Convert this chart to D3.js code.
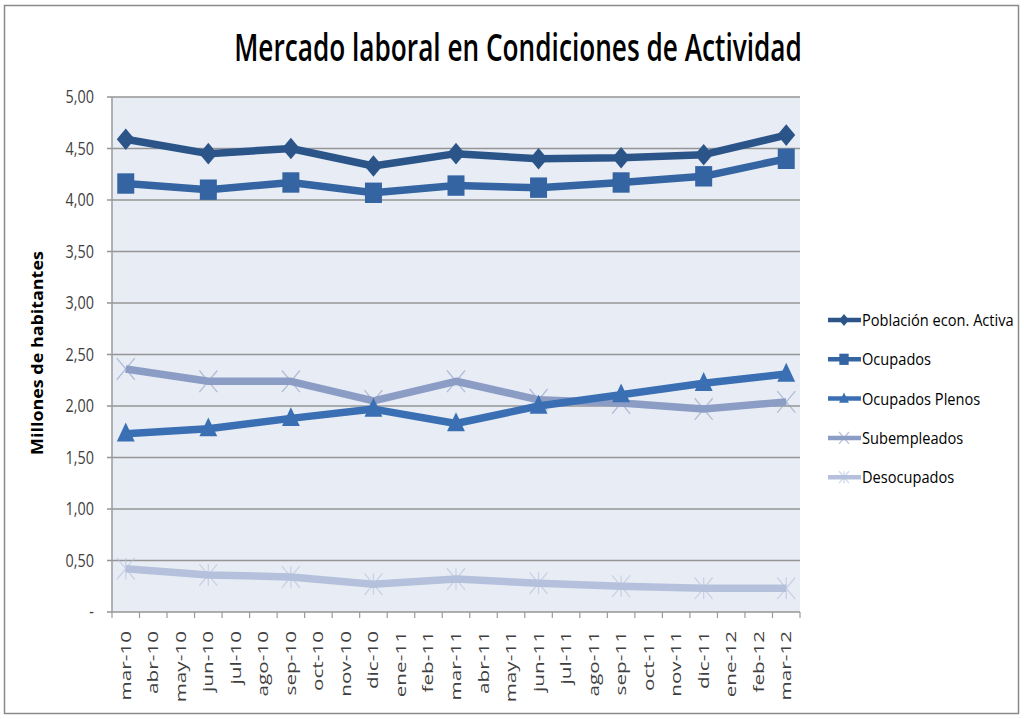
<!DOCTYPE html>
<html>
<head>
<meta charset="utf-8">
<script src="https://cdn.jsdelivr.net/npm/d3@7"></script>
<style>
  body { margin: 0; background: #fff; }
  svg text { font-family: "Open Sans", "Liberation Sans", sans-serif; }
</style>
</head>
<body>
<div id="chart"></div>
<script>
// Mercado laboral - datos trimestrales (millones)
var meses = ["mar-10","abr-10","may-10","jun-10","jul-10","ago-10","sep-10","oct-10","nov-10","dic-10",
             "ene-11","feb-11","mar-11","abr-11","may-11","jun-11","jul-11","ago-11","sep-11","oct-11",
             "nov-11","dic-11","ene-12","feb-12","mar-12"];
var trimestres = ["mar-10","jun-10","sep-10","dic-10","mar-11","jun-11","sep-11","dic-11","mar-12"];

var pea          = [4.59, 4.45, 4.50, 4.33, 4.45, 4.40, 4.41, 4.44, 4.63];
var ocupados     = [4.16, 4.10, 4.17, 4.07, 4.14, 4.12, 4.17, 4.23, 4.40];
var plenos       = [1.73, 1.78, 1.88, 1.97, 1.83, 2.00, 2.11, 2.22, 2.31];
var subempleados = [2.36, 2.24, 2.24, 2.05, 2.24, 2.06, 2.03, 1.97, 2.04];
var desocupados  = [0.42, 0.36, 0.34, 0.27, 0.32, 0.28, 0.25, 0.23, 0.23];

var yTicks = [0, 0.5, 1, 1.5, 2, 2.5, 3, 3.5, 4, 4.5, 5];

var series = [
  { nombre: "Población econ. Activa", valores: pea, color: "#2b5589", marca: "diamond" },
  { nombre: "Ocupados", valores: ocupados, color: "#3464a2", marca: "square" },
  { nombre: "Ocupados Plenos", valores: plenos, color: "#3a6fb3", marca: "triangle" },
  { nombre: "Subempleados", valores: subempleados, color: "#8c9dc5", marca: "x" },
  { nombre: "Desocupados", valores: desocupados, color: "#b5c1dc", marca: "star" }
];

var W = 1024, H = 719;
var margin = { top: 97, right: 224, bottom: 107, left: 112 },
    width = W - margin.left - margin.right,
    height = H - margin.top - margin.bottom;

var svg = d3.select("#chart").append("svg")
    .attr("width", W).attr("height", H);

// marco
svg.append("rect")
    .attr("x", 4.5).attr("y", 5.5).attr("width", 1014).attr("height", 708)
    .attr("fill", "#fff").attr("stroke", "#8a8a8a").attr("stroke-width", 1.5);

svg.append("text")
    .attr("transform", "translate(518,61) scale(0.69,1)")
    .attr("text-anchor", "middle")
    .attr("font-size", 38)
    .attr("font-weight", 600)
    .attr("fill", "#000")
    .text("Mercado laboral en Condiciones de Actividad");

var g = svg.append("g")
    .attr("transform", "translate(" + margin.left + "," + margin.top + ")");

var x = d3.scaleBand().domain(meses).range([0, width]);
var y = d3.scaleLinear().domain([0, 5]).range([height, 0]);
var cx = function(m) { return x(m) + x.bandwidth() / 2; };

g.append("rect")
    .attr("width", width).attr("height", height)
    .attr("fill", "#e8edf5");

// grilla
g.selectAll(".grid").data(yTicks).enter().append("line")
    .attr("x1", -5).attr("x2", width)
    .attr("y1", function(d) { return y(d); })
    .attr("y2", function(d) { return y(d); })
    .attr("stroke", "#959595")
    .attr("stroke-width", 1.5);

g.append("line")
    .attr("x1", 0).attr("x2", 0).attr("y1", 0).attr("y2", height)
    .attr("stroke", "#9a9a9a").attr("stroke-width", 1.5);

var fmt = function(d) { return d === 0 ? "-" : d3.format(".2f")(d).replace(".", ","); };
g.selectAll(".ylab").data(yTicks).enter().append("text")
    .attr("transform", function(d) { return "translate(-18," + y(d) + ") scale(0.9,1.12)"; })
    .attr("dy", "0.35em")
    .attr("text-anchor", "end")
    .attr("font-size", 16)
    .attr("fill", "#404040")
    .text(fmt);

// eje x
var xAxis = d3.axisBottom(x).tickSize(0).tickFormat("");
g.append("g").attr("transform", "translate(0," + height + ")").call(xAxis)
    .select(".domain").remove();
var bordes = meses.map(function(m) { return x(m); }).concat([width]);
g.selectAll(".xtick").data(bordes).enter().append("line")
    .attr("x1", function(d) { return d; }).attr("x2", function(d) { return d; })
    .attr("y1", height).attr("y2", height + 6)
    .attr("stroke", "#9a9a9a").attr("stroke-width", 1.2);

g.selectAll(".xlab").data(meses).enter().append("text")
    .attr("transform", function(d) { return "translate(" + (cx(d) + 5) + "," + (height + 19) + ") rotate(-90) scale(1.38,1)"; })
    .attr("text-anchor", "end")
    .attr("font-size", 15)
    .attr("fill", "#404040")
    .text(function(d) { return d; });

svg.append("text")
    .attr("transform", "translate(43,353) rotate(-90) scale(1.12,1)")
    .attr("text-anchor", "middle")
    .attr("font-size", 16)
    .attr("font-weight", "bold")
    .attr("fill", "#000")
    .text("Millones de habitantes");

var line = d3.line()
    .x(function(d) { return cx(d.m); })
    .y(function(d) { return y(d.v); });

function dibujarMarca(sel, tipo, color, s) {
  var sy = s * 1.2;
  if (tipo === "diamond") {
    sel.append("path").attr("d", "M0," + (-sy) + "L" + s + ",0L0," + sy + "L" + (-s) + ",0Z").attr("fill", color);
  } else if (tipo === "square") {
    sel.append("rect").attr("x", -s).attr("y", -sy).attr("width", 2 * s).attr("height", 2 * sy).attr("fill", color);
  } else if (tipo === "triangle") {
    sel.append("path").attr("d", "M0," + (-sy * 1.1) + "L" + (s * 1.05) + "," + (sy * 0.75) + "L" + (-s * 1.05) + "," + (sy * 0.75) + "Z").attr("fill", color);
  } else if (tipo === "x") {
    sel.append("path").attr("d", "M" + (-s) + "," + (-sy) + "L" + s + "," + sy + "M" + s + "," + (-sy) + "L" + (-s) + "," + sy)
      .attr("stroke", color).attr("stroke-width", 1.3).attr("opacity", 0.6);
  } else {
    sel.append("path").attr("d", "M" + (-s) + "," + (-sy) + "L" + s + "," + sy + "M" + s + "," + (-sy) + "L" + (-s) + "," + sy + "M0," + (-sy) + "L0," + sy)
      .attr("stroke", color).attr("stroke-width", 1.3).attr("opacity", 0.6);
  }
}

var tamanos = { diamond: 9, square: 8.5, triangle: 8.5, x: 9, star: 9 };

series.slice().reverse().forEach(function(s) {
  var datos = trimestres.map(function(m, i) { return { m: m, v: s.valores[i] }; });
  g.append("path")
    .datum(datos)
    .attr("fill", "none")
    .attr("stroke", s.color)
    .attr("stroke-width", 7.5)
    .attr("stroke-linejoin", "round")
    .attr("d", line);
  datos.forEach(function(d) {
    var mk = g.append("g").attr("transform", "translate(" + cx(d.m) + "," + y(d.v) + ")");
    dibujarMarca(mk, s.marca, s.color, tamanos[s.marca]);
  });
});

// leyenda
var ley = svg.append("g").attr("transform", "translate(828,320)");
series.forEach(function(s, i) {
  var fila = ley.append("g").attr("transform", "translate(0," + (i * 39.3) + ")");
  fila.append("line").attr("x1", 0).attr("x2", 33).attr("y1", 0).attr("y2", 0)
    .attr("stroke", s.color).attr("stroke-width", 4.5);
  var mk = fila.append("g").attr("transform", "translate(16,0)");
  dibujarMarca(mk, s.marca, s.color, tamanos[s.marca] * 0.55);
  fila.append("text")
    .attr("transform", "translate(34,0) scale(0.86,1)")
    .attr("dy", "0.36em")
    .attr("font-size", 17).attr("fill", "#000").text(s.nombre);
});
</script>
</body>
</html>
